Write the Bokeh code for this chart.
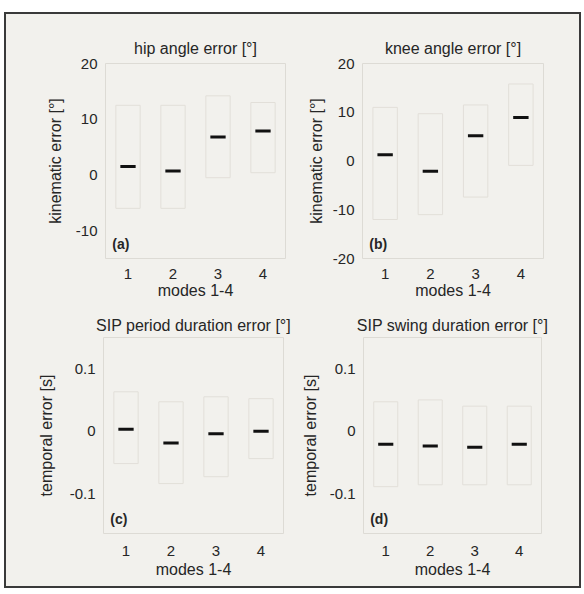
from bokeh.plotting import figure
from bokeh.layouts import row, column
from bokeh.models import Label, FixedTicker, Range1d
from bokeh.embed import file_html
from bokeh.resources import INLINE

FONT = "Liberation Sans"
PAPER = "#f2f1ed"
BOXC = "#e2dfd9"
TXT = "#262626"

modes = [1, 2, 3, 4]
mode_labels = ["1", "2", "3", "4"]

# (a) hip angle error [deg]
hip_low = [-6.0, -6.0, -0.5, 0.4]
hip_high = [12.5, 12.5, 14.2, 13.0]
hip_med = [1.5, 0.7, 6.8, 7.9]

# (b) knee angle error [deg]
knee_low = [-12.0, -11.0, -7.4, -0.9]
knee_high = [11.0, 9.7, 11.5, 15.8]
knee_med = [1.3, -2.1, 5.2, 8.9]

# (c) SIP period duration error [s]
period_low = [-0.052, -0.084, -0.073, -0.044]
period_high = [0.063, 0.047, 0.055, 0.052]
period_med = [0.003, -0.019, -0.004, 0.0]

# (d) SIP swing duration error [s]
swing_low = [-0.089, -0.086, -0.086, -0.086]
swing_high = [0.047, 0.050, 0.040, 0.040]
swing_med = [-0.021, -0.024, -0.026, -0.021]

kin_ticks_a = [-10, 0, 10, 20]
kin_ticks_b = [-20, -10, 0, 10, 20]
tmp_ticks = [-0.1, 0, 0.1]


def panel(title, ylabel, low, high, med, yr, ticks, tag,
          width, height, bl, br, bt, bb, ylab_standoff, title_standoff,
          xtick_standoff, xlab_standoff):
    p = figure(width=width, height=height,
               x_range=Range1d(0.5, 4.5), y_range=Range1d(*yr),
               title=title, output_backend="svg", toolbar_location=None,
               min_border_left=bl, min_border_right=br,
               min_border_top=bt, min_border_bottom=bb)
    p.background_fill_color = PAPER
    p.border_fill_color = PAPER
    p.outline_line_color = "#dddbd5"
    p.xgrid.visible = False
    p.ygrid.visible = False

    p.title.align = "center"
    p.title.text_font = FONT
    p.title.text_font_size = "16px"
    p.title.text_font_style = "normal"
    p.title.text_color = TXT
    p.title.standoff = title_standoff

    for ax in (p.xaxis[0], p.yaxis[0]):
        ax.axis_line_color = None
        ax.major_tick_line_color = None
        ax.minor_tick_line_color = None
        ax.major_tick_out = 0
        ax.major_tick_in = 0
        ax.major_label_text_font = FONT
        ax.major_label_text_font_size = "15px"
        ax.major_label_text_color = TXT
        ax.axis_label_text_font = FONT
        ax.axis_label_text_font_size = "16px"
        ax.axis_label_text_font_style = "normal"
        ax.axis_label_text_color = TXT

    p.xaxis.ticker = FixedTicker(ticks=modes)
    p.xaxis.major_label_overrides = {m: l for m, l in zip(modes, mode_labels)}
    p.xaxis.major_label_standoff = xtick_standoff
    p.xaxis.axis_label = "modes 1-4"
    p.xaxis.axis_label_standoff = xlab_standoff
    p.yaxis.ticker = FixedTicker(ticks=ticks)
    p.yaxis.major_label_overrides = {t: str(t) for t in ticks}
    p.yaxis.major_label_standoff = 8
    p.yaxis.axis_label = ylabel
    p.yaxis.axis_label_standoff = ylab_standoff

    p.vbar(x=modes, width=0.54, bottom=low, top=high,
           fill_color=None, line_color=BOXC, line_width=1)
    p.rect(x=modes, y=med, width=0.34, height=3, height_units="screen",
           fill_color="#111111", line_color=None)

    span = yr[1] - yr[0]
    p.add_layout(Label(x=0.65, y=yr[0] + 0.035 * span, text=tag,
                       text_font=FONT, text_font_size="14px",
                       text_font_style="bold", text_color=TXT))
    return p


pa = panel("hip angle error [°]", "kinematic error [°]", hip_low, hip_high, hip_med,
           (-15, 20), kin_ticks_a, "(a)", 292, 288, 99, 13, 49, 44, 9, 13, 10, 0)
pb = panel("knee angle error [°]", "kinematic error [°]", knee_low, knee_high, knee_med,
           (-20, 20), kin_ticks_b, "(b)", 281, 288, 64, 36, 49, 44, 5, 13, 10, 0)
pc = panel("SIP period duration error [°]", "temporal error [s]", period_low, period_high,
           period_med, (-0.164, 0.15), tmp_ticks, "(c)", 292, 284, 97, 15, 35, 53, 12, 8, 12, 2)
pd = panel("SIP swing duration error [°]", "temporal error [s]", swing_low, swing_high,
           swing_med, (-0.164, 0.15), tmp_ticks, "(d)", 281, 284, 62, 38, 35, 53, 8, 8, 12, 2)

layout = column(row(pa, pb), row(pc, pd),
                styles={"border": "2px solid #3a3a3a", "background-color": PAPER,
                        "margin-left": "4px", "margin-top": "12px"})

open("out.html", "w").write(file_html(layout, INLINE))
